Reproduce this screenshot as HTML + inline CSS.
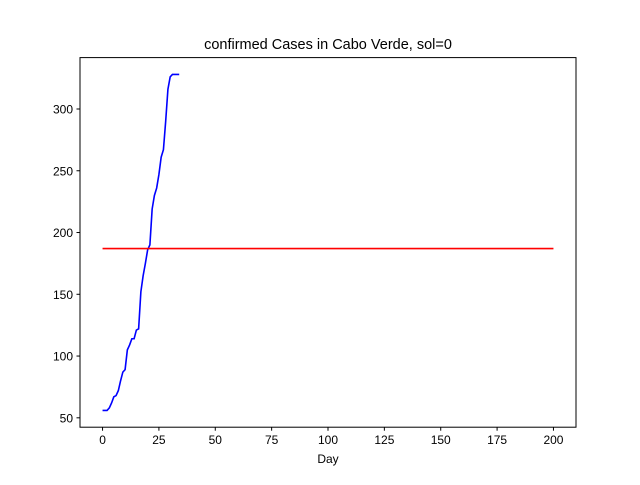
<!DOCTYPE html>
<html><head><meta charset="utf-8"><style>
body{margin:0;background:#fff;}
svg text{font-family:"Liberation Sans","DejaVu Sans",sans-serif;}
</style></head><body>
<svg id="chart" width="640" height="480" xmlns="http://www.w3.org/2000/svg">
<rect width="640" height="480" fill="#fff"/>
<text x="328" y="49" text-anchor="middle" font-size="14.5">confirmed Cases in Cabo Verde, sol=0</text>
<g id="plot"></g>
<rect x="80" y="57.6" width="496" height="369.6" fill="none" stroke="#000" stroke-width="1"/>
<text x="328" y="463" text-anchor="middle" font-size="12">Day</text>
</svg>
<script>
const confirmed = [56,56,56,58,62,67,68,72,80,87,89,105,109,114,114,121,122,152,165,175,186,190,219,230,236,247,261,267,290,316,326,328,328,328,328];
const modelDays = [0,200];
const modelValues = [187,187];
const xTicks = [0,25,50,75,100,125,150,175,200];
const yTicks = [50,100,150,200,250,300];

const X0=80,X1=576,Y0=427.2,Y1=57.6;
const xMin=-10,xMax=210,yMin=42.4,yMax=341.6;
const sx=v=>X0+(v-xMin)/(xMax-xMin)*(X1-X0);
const sy=v=>Y0-(v-yMin)/(yMax-yMin)*(Y0-Y1);
const NS="http://www.w3.org/2000/svg";
const g=document.getElementById('plot');
function mk(t,a){const e=document.createElementNS(NS,t);for(const k in a)e.setAttribute(k,a[k]);g.appendChild(e);return e;}
xTicks.forEach(t=>{
  const l=mk('line',{x1:sx(t),x2:sx(t),y1:Y0,y2:Y0+3.5,stroke:'#000'});
  
  
  const s=mk('text',{x:sx(t),y:Y0+17,'text-anchor':'middle','font-size':'12'});s.textContent=t;
  
  
});
yTicks.forEach(t=>{
  const l=mk('line',{x1:X0-3.5,x2:X0,y1:sy(t),y2:sy(t),stroke:'#000'});
  
  
  const s=mk('text',{x:X0-7,y:sy(t)+4.5,'text-anchor':'end','font-size':'12'});s.textContent=t;
  
  
});
const bp=confirmed.map((v,i)=>sx(i)+','+sy(v)).join(' ');
const bl=mk('polyline',{points:bp,fill:'none',stroke:'#0000ff','stroke-width':'1.6'});


const rp=modelDays.map((d,i)=>sx(d)+','+sy(modelValues[i])).join(' ');
const rl=mk('polyline',{points:rp,fill:'none',stroke:'#ff0000','stroke-width':'1.6'});


</script>
</body></html>
